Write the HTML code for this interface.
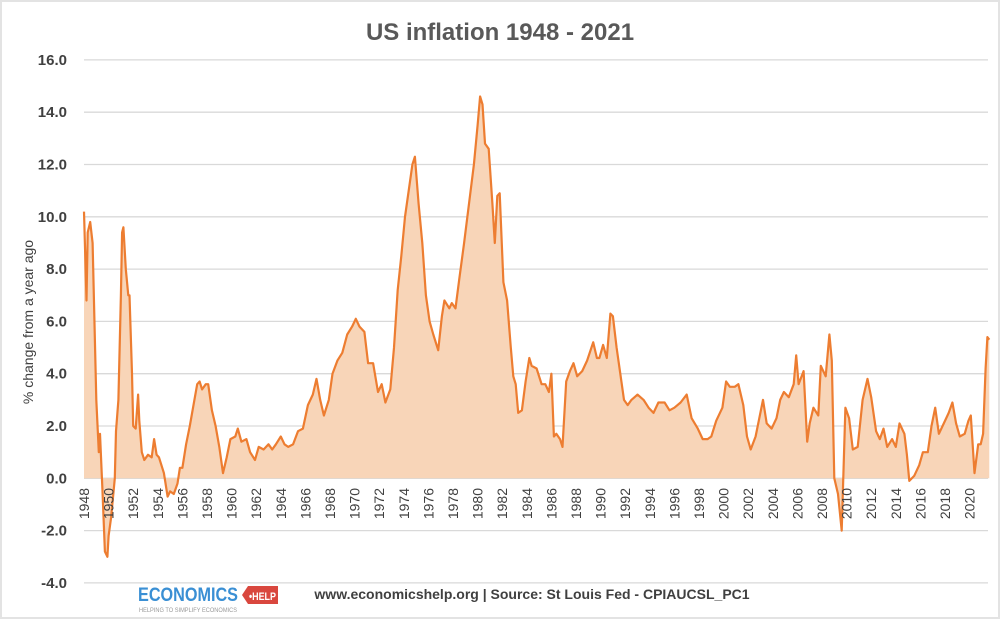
<!DOCTYPE html>
<html><head><meta charset="utf-8"><style>
body{margin:0;background:#fff;}
#wrap{position:relative;width:1000px;height:619px;overflow:hidden;font-family:"Liberation Sans",sans-serif;}
</style></head><body>
<div id="wrap">
<svg id="chart" width="1000" height="619" xmlns="http://www.w3.org/2000/svg">
<rect x="1" y="1" width="998" height="617" fill="#fff" stroke="#e3e3e3" stroke-width="2"/>
<text x="500" y="40" text-anchor="middle" font-size="24" font-weight="bold" fill="#595959">US inflation 1948 - 2021</text>
<text transform="translate(33,322) rotate(-90)" text-anchor="middle" font-size="14" fill="#404040">% change from a year ago</text>
<g id="grid"></g><g id="ylabels"></g><g id="series"></g><g id="xlabels"></g>
<g>
<text x="138" y="601" font-size="19" font-weight="bold" fill="#3a8fd4" textLength="100" lengthAdjust="spacingAndGlyphs">ECONOMICS</text>
<path d="M248,586 L278,586 L278,604 L248,604 L242,595 Z" fill="#d9473e"/>
<text x="249" y="600" font-size="11" font-weight="bold" fill="#fff" textLength="27" lengthAdjust="spacingAndGlyphs">•HELP</text>
<text x="139" y="612" font-size="6" fill="#9a9a9a" textLength="98" lengthAdjust="spacingAndGlyphs">HELPING TO SIMPLIFY ECONOMICS</text>
</g>
<text x="532" y="599" text-anchor="middle" font-size="14" font-weight="bold" fill="#404040">www.economicshelp.org | Source: St Louis Fed - CPIAUCSL_PC1</text>
</svg>
</div>
<script>
const years=[1948.0,1948.2,1948.3,1948.5,1948.7,1949.0,1949.2,1949.3,1949.5,1949.7,1949.9,1950.0,1950.2,1950.5,1950.6,1950.8,1951.0,1951.1,1951.2,1951.4,1951.6,1951.7,1951.9,1952.0,1952.2,1952.4,1952.5,1952.7,1952.9,1953.2,1953.5,1953.7,1953.9,1954.1,1954.5,1954.8,1955.0,1955.3,1955.6,1955.8,1956.0,1956.3,1956.6,1956.9,1957.2,1957.4,1957.6,1957.9,1958.1,1958.4,1958.7,1959.0,1959.3,1959.6,1959.9,1960.3,1960.5,1960.8,1961.2,1961.5,1961.9,1962.2,1962.6,1963.0,1963.3,1963.6,1964.0,1964.3,1964.6,1965.0,1965.4,1965.8,1966.2,1966.6,1966.9,1967.2,1967.5,1967.9,1968.2,1968.6,1969.0,1969.4,1969.8,1970.1,1970.4,1970.8,1971.1,1971.5,1971.9,1972.2,1972.5,1972.9,1973.2,1973.5,1973.8,1974.1,1974.4,1974.7,1974.9,1975.2,1975.5,1975.8,1976.1,1976.4,1976.8,1977.1,1977.3,1977.7,1977.9,1978.2,1978.5,1978.9,1979.3,1979.7,1980.0,1980.2,1980.4,1980.6,1980.9,1981.2,1981.4,1981.6,1981.8,1982.1,1982.4,1982.7,1982.9,1983.1,1983.3,1983.6,1983.9,1984.2,1984.4,1984.8,1985.2,1985.5,1985.8,1986.0,1986.2,1986.4,1986.7,1986.9,1987.2,1987.5,1987.8,1988.1,1988.5,1988.9,1989.4,1989.7,1989.9,1990.2,1990.5,1990.8,1991.0,1991.3,1991.6,1991.9,1992.2,1992.5,1993.0,1993.5,1993.9,1994.3,1994.7,1995.2,1995.6,1996.0,1996.5,1997.0,1997.4,1997.9,1998.3,1998.7,1999.0,1999.4,1999.9,2000.2,2000.5,2000.9,2001.2,2001.6,2001.9,2002.2,2002.6,2002.9,2003.2,2003.5,2003.9,2004.3,2004.6,2004.9,2005.3,2005.7,2005.9,2006.1,2006.5,2006.8,2007.0,2007.3,2007.7,2007.9,2008.3,2008.6,2008.8,2009.0,2009.3,2009.6,2009.9,2010.2,2010.5,2010.9,2011.3,2011.7,2012.0,2012.4,2012.7,2013.0,2013.3,2013.7,2014.0,2014.3,2014.7,2014.9,2015.1,2015.5,2015.9,2016.2,2016.6,2016.9,2017.2,2017.5,2017.9,2018.3,2018.6,2018.9,2019.2,2019.6,2019.9,2020.1,2020.4,2020.7,2020.9,2021.1,2021.3,2021.45,2021.6];
const values=[10.2,6.8,9.4,9.8,9.0,3.0,1.0,1.7,-0.5,-2.8,-3.0,-2.2,-1.5,0.0,1.8,3.0,7.0,9.4,9.6,8.0,7.0,7.0,4.0,2.0,1.9,3.2,2.2,1.0,0.7,0.9,0.8,1.5,0.9,0.8,0.2,-0.7,-0.5,-0.6,-0.2,0.4,0.4,1.3,2.0,2.8,3.6,3.7,3.4,3.6,3.6,2.6,2.0,1.2,0.2,0.8,1.5,1.6,1.9,1.4,1.5,1.0,0.7,1.2,1.1,1.3,1.1,1.3,1.6,1.3,1.2,1.3,1.8,1.9,2.8,3.2,3.8,3.0,2.4,3.0,4.0,4.5,4.8,5.5,5.8,6.1,5.8,5.6,4.4,4.4,3.3,3.6,2.9,3.4,5.0,7.2,8.5,10.0,11.0,12.0,12.3,10.5,9.0,7.0,6.0,5.5,4.9,6.2,6.8,6.5,6.7,6.5,7.6,9.0,10.5,12.0,13.5,14.6,14.3,12.8,12.6,10.5,9.0,10.8,10.9,7.5,6.8,5.0,3.9,3.6,2.5,2.6,3.7,4.6,4.3,4.2,3.6,3.6,3.3,4.0,1.6,1.7,1.5,1.2,3.7,4.1,4.4,3.9,4.1,4.5,5.2,4.6,4.6,5.1,4.6,6.3,6.2,5.0,4.0,3.0,2.8,3.0,3.2,3.0,2.7,2.5,2.9,2.9,2.6,2.7,2.9,3.2,2.3,1.9,1.5,1.5,1.6,2.2,2.7,3.7,3.5,3.5,3.6,2.8,1.6,1.1,1.6,2.3,3.0,2.1,1.9,2.3,3.0,3.3,3.1,3.6,4.7,3.6,4.1,1.4,2.1,2.7,2.4,4.3,3.9,5.5,4.5,0.0,-0.6,-2.0,2.7,2.3,1.1,1.2,3.0,3.8,3.1,1.8,1.5,1.9,1.2,1.5,1.2,2.1,1.7,0.9,-0.1,0.1,0.5,1.0,1.0,2.0,2.7,1.7,2.1,2.5,2.9,2.1,1.6,1.7,2.2,2.4,0.2,1.3,1.3,1.7,4.2,5.4,5.3];
const yTicks=[16,14,12,10,8,6,4,2,0,-2,-4];
const xTickYears=[1948,1950,1952,1954,1956,1958,1960,1962,1964,1966,1968,1970,1972,1974,1976,1978,1980,1982,1984,1986,1988,1990,1992,1994,1996,1998,2000,2002,2004,2006,2008,2010,2012,2014,2016,2018,2020];

const NS='http://www.w3.org/2000/svg';
const X0=84,XR=988,PX=12.3;
function xs(yr){return X0+(yr-1948)*PX;}
function ys(v){return 478.3-v*26.15;}
function mk(tag,attrs,parent){const e=document.createElementNS(NS,tag);for(const k in attrs)e.setAttribute(k,attrs[k]);parent.appendChild(e);return e;}
const grid=document.getElementById('grid'),yl=document.getElementById('ylabels'),ser=document.getElementById('series'),xl=document.getElementById('xlabels');
yTicks.forEach(t=>{
  const l=mk('line',{x1:X0,x2:XR,y1:ys(t),y2:ys(t),stroke:'#d9d9d9','stroke-width':1.3},grid);
  
  
  const tx=mk('text',{x:67,y:ys(t)+5,'text-anchor':'end','font-size':15,'font-weight':'bold',fill:'#404040'},yl);
  tx.textContent=t.toFixed(1);
  
  
});
let d='M'+xs(years[0])+','+ys(0);
years.forEach((y,i)=>{d+=' L'+xs(y).toFixed(1)+','+ys(values[i]).toFixed(1);});
d+=' L'+xs(years[years.length-1])+','+ys(0)+' Z';
const area=mk('path',{d:d,fill:'#f8d5b8'},ser);


const pts=years.map((y,i)=>xs(y).toFixed(1)+','+ys(values[i]).toFixed(1)).join(' ');
const line=mk('polyline',{points:pts,fill:'none',stroke:'#ed7d31','stroke-width':2.2,'stroke-linejoin':'round'},ser);


xTickYears.forEach(yr=>{
  const tx=mk('text',{transform:'translate('+(xs(yr)+5)+',488) rotate(-90)','text-anchor':'end','font-size':14,fill:'#404040'},xl);
  tx.textContent=yr;
  
  
});
</script>
</body></html>
